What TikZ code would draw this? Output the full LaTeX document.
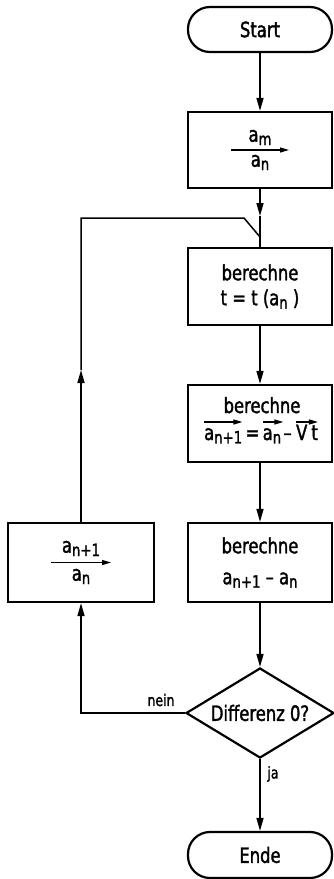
\documentclass[tikz,border=0pt]{standalone}
\usepackage{fontspec}
\setmainfont[FakeStretch=0.78,FakeBold=1.6]{DejaVu Sans}
\usetikzlibrary{arrows.meta,shapes.geometric}
\newcommand\ix[1]{\raisebox{-0.3ex}{\fontsize{17}{17}\selectfont #1}}
\begin{document}
\begin{tikzpicture}[x=1pt,y=-1pt,
  font=\fontsize{21}{24}\selectfont,
  box/.style={draw,line width=2.2pt,minimum width=144pt,minimum height=77pt,inner sep=0pt,align=center},
  term/.style={draw,line width=2.2pt,rounded corners=22pt,minimum width=144pt,minimum height=45pt,inner sep=0pt},
  dec/.style={draw,line width=2.2pt,diamond,aspect=1.64,minimum width=148pt,minimum height=90pt,inner sep=0pt},
  flow/.style={line width=1.5pt},
  tip/.style={-{Triangle[length=13pt,width=7pt]}},
  inarr/.style={line width=1.2pt,-{Triangle[length=9pt,width=5pt]}},
  lbl/.style={font=\fontsize{16}{18}\selectfont,inner sep=0pt},
  part/.style={inner sep=0pt,anchor=base west},
]
\useasboundingbox (0,0) rectangle (334,879);
\node[term] (start) at (260,29.5) {Start};
\node[box,minimum height=76pt] (in) at (260,150) {a\ix{m}\\[1pt]a\ix{n}};
\node[box] (t) at (260,286.5) {berechne\\[1pt]t = t (a\ix{n} )};
\node[box] (v) at (260,423.5) {};
\node[inner sep=0pt,anchor=base] (vb) at (262,413) {berechne};
\node[part] (v1) at (204,440) {a\ix{n+1}};
\node[part] (veq) at ([xshift=3pt]v1.base east) {=};
\node[part] (v2) at ([xshift=3pt]veq.base east) {a\ix{n}};
\node[part] (vm) at ([xshift=2pt]v2.base east) {–};
\node[part] (v3) at ([xshift=4pt]vm.base east) {V\kern4pt t};
\node[box,minimum height=79pt] (d) at (260,562.5) {berechne\\[7pt]a\ix{n+1} – a\ix{n}};
\node[box,minimum width=146pt,minimum height=79pt] (sw) at (81,562.5) {a\ix{n+1}\\[4pt]a\ix{n}};
\node[dec] (q) at (260,713) {Differenz 0?};
\node[term,minimum height=46pt] (end) at (260,855) {Ende};
\node[lbl] (nein) at (161,700) {nein};
\node[lbl] (ja) at (273,774) {ja};
\coordinate (a1) at (260,216);
\coordinate (a2) at (81,370);
\coordinate (m1) at (81,218);
\coordinate (m2) at (244,218);
\coordinate (mj) at (260,237);
\coordinate (c1) at (81,713);
\draw[inarr] ([xshift=-29pt]in.center) -- ([xshift=29pt]in.center);
\draw[inarr] ([xshift=-30pt]sw.center) -- ([xshift=30pt]sw.center);
\draw[inarr] ([yshift=18pt]v1.base west) -- ([yshift=18pt]v1.base east);
\draw[inarr] ([yshift=18pt]v2.base west) -- ([xshift=2pt,yshift=18pt]v2.base east);
\draw[inarr] ([yshift=18pt]v3.base west) -- ([yshift=18pt]v3.base east);
\draw[flow,tip] (start) -- (in);
\draw[flow,tip] (in) -- (a1);
\draw[flow] (a1) -- (t);
\draw[flow,tip] (t) -- (v);
\draw[flow,tip] (v) -- (d);
\draw[flow,tip] (d) -- (q);
\draw[flow,tip] (q) -- (end);
\draw[flow,tip] (q.west) -- (c1) -- (sw);
\draw[flow,tip] (sw) -- (a2);
\draw[flow] (a2) -- (m1) -- (m2) -- (mj);
\end{tikzpicture}
\end{document}
